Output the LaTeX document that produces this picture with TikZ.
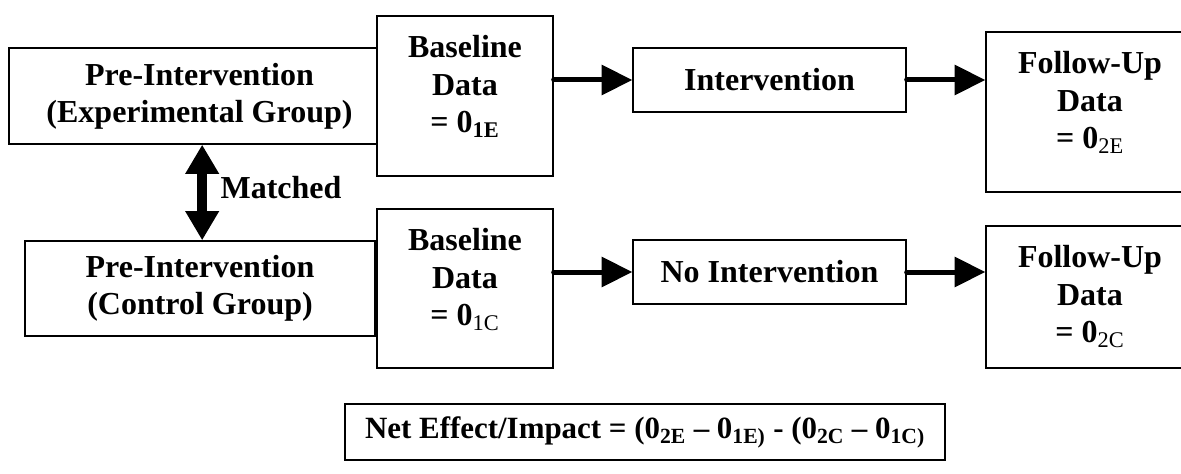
\documentclass[tikz,border=0pt]{standalone}
\usepackage{fontspec}
\setmainfont{Liberation Serif}
\usetikzlibrary{arrows.meta, positioning}

\begin{document}
\begin{tikzpicture}[
    x=0.75pt, y=-0.75pt,
    font=\fontsize{24}{28}\selectfont\bfseries,
    box/.style={draw, line width=1pt, fill=white, inner sep=0pt, align=center},
    txt/.style={inner sep=0pt, align=center, anchor=north},
    arrow/.style={-{Triangle[length=23pt, width=22pt]}, line width=3.75pt, line cap=round}
]
    \useasboundingbox (0,0) rectangle (1181,474);

    % Experimental group
    \node[box, minimum width=285.75pt, minimum height=72pt] (preE) at (199.5,96) {Pre-Intervention\\(Experimental Group)};
    \node[box, minimum width=132pt, minimum height=120pt] (baseE) at (465,96) {};
    \node[txt] (baseEtxt) at ([yshift=-15pt]baseE.north) {Baseline\\Data\\= 0\textsubscript{1E}};
    \node[box, minimum width=204.75pt, minimum height=48pt] (intv) at (769.5,80) {Intervention};
    \node[box, minimum width=156pt, minimum height=120pt] (follE) at (1090,112) {};
    \node[txt] (follEtxt) at ([yshift=-15pt]follE.north) {Follow-Up\\Data\\= 0\textsubscript{\mdseries 2E}};

    % Control group
    \node[box, minimum width=262.5pt, minimum height=71.25pt] (preC) at (200,288.5) {Pre-Intervention\\(Control Group)};
    \node[box, minimum width=132pt, minimum height=119.25pt] (baseC) at (465,288.5) {};
    \node[txt] (baseCtxt) at ([yshift=-15pt]baseC.north) {Baseline\\Data\\= 0\textsubscript{\mdseries 1C}};
    \node[box, minimum width=204.75pt, minimum height=48pt] (nointv) at (769.5,272) {No Intervention};
    \node[box, minimum width=156pt, minimum height=106.5pt] (follC) at (1090,297) {};
    \node[txt] (follCtxt) at ([yshift=-15pt]follC.north) {Follow-Up\\Data\\= 0\textsubscript{\mdseries 2C}};

    % Net effect
    \node[box, minimum width=450pt, minimum height=42pt, font=\fontsize{23.2}{28}\selectfont\bfseries] (net) at (645,432)
        {Net Effect/Impact = (0\textsubscript{2E} \textendash{} 0\textsubscript{1E)}\ - (0\textsubscript{2C} \textendash{} 0\textsubscript{1C)}};

    % Arrows
    \draw[arrow] (baseE.east |- intv.west) -- (intv.west);
    \draw[arrow] (intv.east) -- (follE.west |- intv.east);
    \draw[arrow] (baseC.east |- nointv.west) -- (nointv.west);
    \draw[arrow] (nointv.east) -- (follC.west |- nointv.east);
    \draw[{Triangle[length=22pt, width=24pt]}-{Triangle[length=22pt, width=24pt]}, line width=7.5pt]
        ([xshift=2pt]preE.south) -- ([xshift=2pt]preE.south |- preC.north);
    \node (match) at (281,188) {Matched};
\end{tikzpicture}
\end{document}
